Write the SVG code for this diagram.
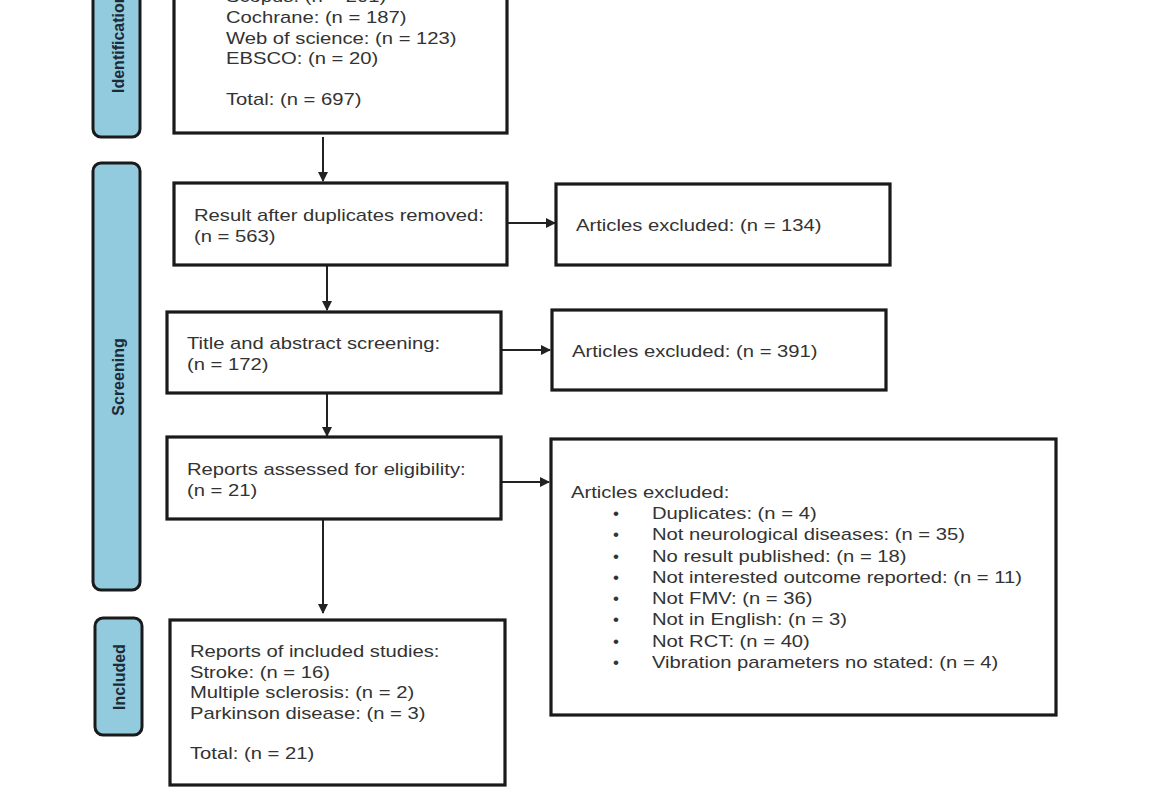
<svg xmlns="http://www.w3.org/2000/svg" width="1170" height="800" viewBox="0 0 1170 800">
<defs>
<marker id="ah" viewBox="0 0 10 10" refX="9" refY="5" markerWidth="5" markerHeight="5" orient="auto" markerUnits="strokeWidth">
<path d="M0,0 L10,5 L0,10 z" fill="#222"/>
</marker>
<style>
.box{fill:#fff;stroke:#1a1a1a;stroke-width:3.2}
.side{fill:#92cade;stroke:#1a1a1a;stroke-width:3}
.t{font-family:"Liberation Sans",Arial,sans-serif;font-size:17px;fill:#333}
.s{font-family:"Liberation Sans",Arial,sans-serif;font-size:16px;font-weight:bold;fill:#1c2b38}
.c{stroke:#222;stroke-width:2;fill:none;marker-end:url(#ah)}
</style>
</defs>
<rect width="1170" height="800" fill="#fff"/>
<g id="side-identification">
<rect class="side" x="93" y="-20" width="47" height="157" rx="8"/>
<text class="s" transform="translate(124,93) rotate(-90)">Identification</text>
</g>
<g id="side-screening">
<rect class="side" x="93" y="163" width="47" height="427" rx="8"/>
<text class="s" text-anchor="middle" transform="translate(124,377) rotate(-90)">Screening</text>
</g>
<g id="side-included">
<rect class="side" x="95" y="618" width="47" height="117" rx="8"/>
<text class="s" text-anchor="middle" transform="translate(125,677) rotate(-90)">Included</text>
</g>
<g id="connectors">
<line class="c" x1="323" y1="137" x2="323" y2="181"/>
<line class="c" x1="508" y1="223" x2="555" y2="223"/>
<line class="c" x1="327" y1="266" x2="327" y2="310"/>
<line class="c" x1="502" y1="350" x2="550" y2="350"/>
<line class="c" x1="327" y1="394" x2="327" y2="436"/>
<line class="c" x1="502" y1="482" x2="549" y2="482"/>
<line class="c" x1="323" y1="520" x2="323" y2="613"/>
</g>
<g id="n-identification">
<rect class="box" x="174" y="-20" width="333" height="153"/>
<g class="t" transform="translate(226,0) scale(1.19,1)">
<text x="0" y="2">Scopus: (n = 201)</text>
<text x="0" y="23">Cochrane: (n = 187)</text>
<text x="0" y="44">Web of science: (n = 123)</text>
<text x="0" y="64">EBSCO: (n = 20)</text>
<text x="0" y="105">Total: (n = 697)</text>
</g>
</g>
<g id="n-duplicates">
<rect class="box" x="174" y="183" width="333" height="82"/>
<g class="t" transform="translate(194,0) scale(1.19,1)">
<text x="0" y="221">Result after duplicates removed:</text>
<text x="0" y="242">(n = 563)</text>
</g>
</g>
<g id="n-excl1">
<rect class="box" x="556" y="184" width="334" height="81"/>
<g class="t" transform="translate(576,0) scale(1.19,1)">
<text x="0" y="231">Articles excluded: (n = 134)</text>
</g>
</g>
<g id="n-title">
<rect class="box" x="167" y="312" width="334" height="81"/>
<g class="t" transform="translate(187,0) scale(1.19,1)">
<text x="0" y="349">Title and abstract screening:</text>
<text x="0" y="370">(n = 172)</text>
</g>
</g>
<g id="n-excl2">
<rect class="box" x="552" y="310" width="334" height="80"/>
<g class="t" transform="translate(572,0) scale(1.19,1)">
<text x="0" y="357">Articles excluded: (n = 391)</text>
</g>
</g>
<g id="n-reports">
<rect class="box" x="167" y="437" width="334" height="82"/>
<g class="t" transform="translate(187,0) scale(1.19,1)">
<text x="0" y="475">Reports assessed for eligibility:</text>
<text x="0" y="496">(n = 21)</text>
</g>
</g>
<g id="n-excl3">
<rect class="box" x="551" y="439" width="505" height="276"/>
<g class="t" transform="translate(571,0) scale(1.19,1)">
<text x="0" y="498">Articles excluded:</text>
</g>
<g class="t">
<text x="613" y="519">•</text>
<text x="613" y="540">•</text>
<text x="613" y="562">•</text>
<text x="613" y="583">•</text>
<text x="613" y="604">•</text>
<text x="613" y="625">•</text>
<text x="613" y="647">•</text>
<text x="613" y="668">•</text>
</g>
<g class="t" transform="translate(652,0) scale(1.19,1)">
<text x="0" y="519">Duplicates: (n = 4)</text>
<text x="0" y="540">Not neurological diseases: (n = 35)</text>
<text x="0" y="562">No result published: (n = 18)</text>
<text x="0" y="583">Not interested outcome reported: (n = 11)</text>
<text x="0" y="604">Not FMV: (n = 36)</text>
<text x="0" y="625">Not in English: (n = 3)</text>
<text x="0" y="647">Not RCT: (n = 40)</text>
<text x="0" y="668">Vibration parameters no stated: (n = 4)</text>
</g>
</g>
<g id="n-included">
<rect class="box" x="170" y="620" width="335" height="165"/>
<g class="t" transform="translate(190,0) scale(1.19,1)">
<text x="0" y="657">Reports of included studies:</text>
<text x="0" y="678">Stroke: (n = 16)</text>
<text x="0" y="698">Multiple sclerosis: (n = 2)</text>
<text x="0" y="719">Parkinson disease: (n = 3)</text>
<text x="0" y="759">Total: (n = 21)</text>
</g>
</g>
</svg>
